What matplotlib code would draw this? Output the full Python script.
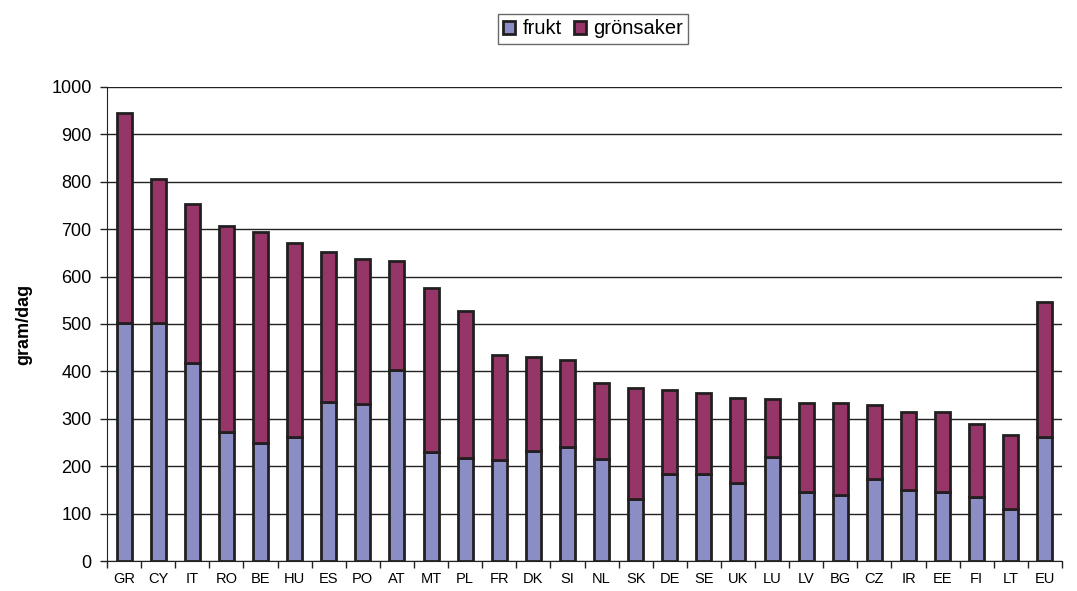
import matplotlib
matplotlib.use("Agg")
import matplotlib.pyplot as plt
import numpy as np

plt.rcParams['font.family'] = ['Liberation Sans', 'DejaVu Sans']

countries = ["GR", "CY", "IT", "RO", "BE", "HU", "ES", "PO", "AT", "MT", "PL", "FR", "DK", "SI",
             "NL", "SK", "DE", "SE", "UK", "LU", "LV", "BG", "CZ", "IR", "EE", "FI", "LT", "EU"]
totals = [945, 805, 753, 706, 695, 670, 652, 637, 632, 576, 527, 435, 430, 424,
          376, 365, 360, 355, 344, 341, 334, 333, 330, 315, 314, 290, 265, 546]
frukt = [502, 502, 418, 273, 250, 262, 336, 332, 402, 230, 218, 214, 233, 241,
         215, 130, 183, 184, 165, 220, 145, 139, 172, 149, 146, 135, 109, 262]
gronsaker = [t - f for t, f in zip(totals, frukt)]
yticks = [0, 100, 200, 300, 400, 500, 600, 700, 800, 900, 1000]

fig = plt.figure(figsize=(10.77, 5.91), dpi=100)
ax = fig.add_axes([107/1077, 1 - 561/591, (1062-107)/1077, (561-87)/591])

x = np.arange(len(countries))
w = 0.44
ax.bar(x, frukt, w, color='#8A8EC4', edgecolor='#231F20', linewidth=2.0, label='frukt', zorder=3)
ax.bar(x, gronsaker, w, bottom=frukt, color='#963668', edgecolor='#231F20', linewidth=2.0,
       label='grönsaker', zorder=3)

ax.set_xlim(-0.5, len(countries) - 0.5)
ax.set_ylim(0, 1000)
ax.set_yticks(yticks)
ax.set_yticklabels([str(v) for v in yticks], fontsize=13)
ax.yaxis.grid(True, color='#222222', linewidth=1.0, zorder=0)
ax.set_axisbelow(True)

ax.set_xticks(x)
ax.set_xticklabels(countries, fontsize=10.5)
ax.tick_params(axis='x', length=0, pad=8)
ax.set_xticks(np.arange(-0.5, len(countries), 1), minor=True)
ax.tick_params(axis='x', which='minor', length=5, width=1, color='#222222', direction='out')
ax.tick_params(axis='y', length=5, width=1, color='#222222', direction='out', pad=6)

for s in ['top', 'right']:
    ax.spines[s].set_visible(False)
ax.spines['left'].set_color('#222222')
ax.spines['bottom'].set_color('#222222')

ax.set_ylabel('gram/dag', fontsize=13, fontweight='bold', labelpad=14)

leg = fig.legend(loc='center', bbox_to_anchor=(593/1077, 1 - 29/591), ncol=2, fontsize=14.5,
                 frameon=True, fancybox=False, edgecolor='#444444', handlelength=0.6,
                 handleheight=0.6, handletextpad=0.35, columnspacing=0.6, borderpad=0.25)
leg.get_frame().set_linewidth(1.0)

fig.savefig('out.png', dpi=100)
